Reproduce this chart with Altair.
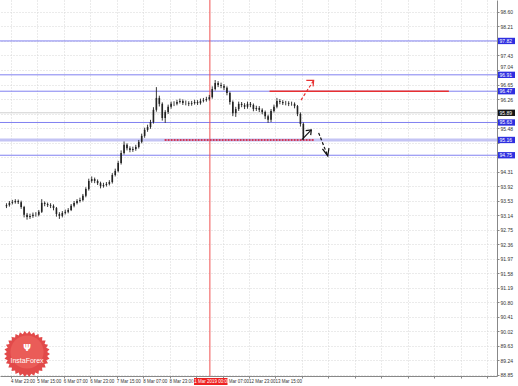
import math
import altair as alt
import pandas as pd

# ---------------- data ----------------
closes = [93.41, 93.47, 93.49, 93.52, 93.49, 93.36, 93.15, 93.09, 93.12, 93.15,
          93.15, 93.23, 93.47, 93.44, 93.41, 93.39, 93.33, 93.17, 93.12, 93.20,
          93.23, 93.28, 93.39, 93.47, 93.52, 93.55, 93.66, 93.84, 94.06, 94.11,
          94.06, 94.00, 93.92, 93.95, 93.98, 94.03, 94.22, 94.33, 94.54, 94.81,
          95.03, 94.94, 94.89, 94.92, 94.97, 95.11, 95.27, 95.43, 95.51, 95.64,
          95.97, 96.29, 96.13, 95.75, 95.91, 96.05, 96.13, 96.13, 96.18, 96.21,
          96.15, 96.15, 96.13, 96.15, 96.18, 96.15, 96.21, 96.23, 96.26, 96.31,
          96.53, 96.69, 96.64, 96.61, 96.56, 96.42, 96.18, 95.88, 95.99, 96.13,
          96.10, 96.05, 96.13, 96.10, 95.99, 96.02, 95.97, 95.91, 95.80, 95.70,
          95.94, 96.05, 96.21, 96.18, 96.15, 96.15, 96.13, 96.13, 96.07, 95.86,
          95.59, 95.21]
highs = [93.46, 93.52, 93.55, 93.57, 93.56, 93.53, 93.39, 93.20, 93.18, 93.21,
         93.22, 93.28, 93.57, 93.51, 93.48, 93.46, 93.43, 93.36, 93.22, 93.25,
         93.29, 93.33, 93.44, 93.52, 93.57, 93.61, 93.71, 93.89, 94.12, 94.18,
         94.15, 94.10, 94.04, 94.01, 94.03, 94.08, 94.27, 94.39, 94.60, 94.88,
         95.12, 95.07, 94.99, 94.98, 95.03, 95.16, 95.33, 95.49, 95.57, 95.70,
         96.04, 96.58, 96.35, 96.17, 95.96, 96.11, 96.19, 96.20, 96.24, 96.27,
         96.25, 96.22, 96.20, 96.21, 96.24, 96.23, 96.27, 96.29, 96.32, 96.37,
         96.60, 96.77, 96.74, 96.70, 96.66, 96.60, 96.46, 96.22, 96.05, 96.19,
         96.18, 96.15, 96.19, 96.18, 96.14, 96.08, 96.07, 96.01, 95.95, 95.84,
         95.99, 96.11, 96.29, 96.26, 96.23, 96.21, 96.20, 96.19, 96.17, 96.10,
         95.90, 95.63]
lows = [93.33, 93.37, 93.43, 93.45, 93.44, 93.31, 93.08, 93.02, 93.04, 93.07,
        93.10, 93.11, 93.20, 93.38, 93.36, 93.33, 93.27, 93.10, 93.04, 93.08,
        93.16, 93.19, 93.25, 93.35, 93.43, 93.48, 93.51, 93.62, 93.80, 94.01,
        94.00, 93.95, 93.86, 93.88, 93.91, 93.94, 93.99, 94.18, 94.29, 94.50,
        94.77, 94.88, 94.83, 94.84, 94.87, 94.93, 95.07, 95.22, 95.38, 95.46,
        95.60, 95.92, 96.06, 95.68, 95.62, 95.86, 96.00, 96.07, 96.09, 96.14,
        96.10, 96.09, 96.07, 96.08, 96.11, 96.10, 96.11, 96.17, 96.19, 96.22,
        96.27, 96.49, 96.58, 96.55, 96.50, 96.36, 96.11, 95.80, 95.78, 95.94,
        96.04, 95.99, 96.00, 96.04, 95.93, 95.94, 95.91, 95.85, 95.72, 95.62,
        95.64, 95.90, 96.01, 96.12, 96.10, 96.09, 96.07, 96.08, 96.01, 95.80,
        95.52, 95.16]
first_open = 93.38

# axis ticks / labels
price_ticks = [98.60, 98.21, 97.82, 97.43, 97.04, 96.65, 96.26, 95.87, 95.48, 95.09,
               94.70, 94.31, 93.92, 93.53, 93.14, 92.75, 92.36, 91.97, 91.58, 91.19,
               90.80, 90.41, 90.02, 89.63, 89.24, 88.85]
hidden_price_ticks = [97.82, 95.87, 95.09, 94.70]
raised_price_tick = 97.04
grid_bars = [1.5, 10.5, 19.5, 28.5, 37.5, 46.5, 55.5, 64.5, 73.5, 82.5,
             91.5, 100.5, 109.5, 118.5, 127.5, 136.5, 145.5, 154.5, 163.5]
# visible time labels (the one under the red tag is hidden, the next is partly covered)
time_labels = ["4 Mar 23:00", "5 Mar 15:00", "6 Mar 07:00", "6 Mar 23:00", "7 Mar 15:00",
               "8 Mar 07:00", "8 Mar 23:00", "Mar 07:00", "12 Mar 23:00", "13 Mar 15:00"]
time_label_bars = [1.5, 10.5, 19.5, 28.5, 37.5, 46.5, 55.5, 75.6, 82.5, 91.5]

# horizontal levels
blue_levels = [97.82, 96.91, 96.47, 95.63, 94.75]
thick_level = 95.16
bid_level = 95.89
tag_prices = [97.82, 96.91, 96.47, 95.89, 95.63, 95.16, 94.75]
tag_kinds = ["blue", "blue", "blue", "black", "blue", "blue", "blue"]

# annotations (bar index, price)
vline_bar = 69.2
vline_tag = "11 Mar 2019 00:00"
vline_tag_from, vline_tag_to = 63.8, 75.2
red_seg_top = (89.5, 150.5, 96.47)
red_seg_low = (53.8, 104.5, 95.16)

arrow_names = ["red_shaft", "red_head", "blk1_shaft", "blk1_head", "blk2_shaft", "blk2_head"]
arrow_x = [[100.2, 104.5], [102.0, 104.5, 104.3], [100.5, 103.7], [101.8, 103.7, 103.5],
           [106.2, 109.3], [107.5, 109.3, 109.7]]
arrow_y = [[96.23, 96.76], [96.76, 96.76, 96.60], [95.17, 95.43], [95.41, 95.43, 95.29],
           [95.35, 94.73], [94.92, 94.73, 94.94]]

# ---------------- build tables ----------------
opens = [first_open] + closes[:-1]
candles = pd.DataFrame({
    "bar": list(range(len(closes))),
    "open": opens, "close": closes, "high": highs, "low": lows,
})

X_DOMAIN = [-0.5, 165.17]
Y_DOMAIN = [88.82, 98.92]
xs = alt.Scale(domain=X_DOMAIN, nice=False, zero=False)
ys = alt.Scale(domain=Y_DOMAIN, nice=False, zero=False)

FONT = "Liberation Sans"
hidden_arr = "[" + ",".join(str(v) for v in hidden_price_ticks) + "]"
y_label_expr = f"indexof({hidden_arr}, datum.value) >= 0 ? '' : format(datum.value, '.2f')"

x_axis = alt.Axis(values=grid_bars, tickCount=200, labels=False, orient="bottom", title=None,
                  grid=True, gridColor="#d6d6d6", gridDash=[1, 2],
                  tickSize=2, tickColor="#888888", domainColor="#888888")
y_axis = alt.Axis(values=price_ticks, tickCount=200, labelExpr=y_label_expr, orient="right",
                  title=None, grid=True, gridColor="#d6d6d6", gridDash=[1, 2], labelFontSize=5,
                  labelFont=FONT, labelColor="#333333", labelFlush=False,
                  labelOverlap=False, labelPadding=1, tickSize=2, tickColor="#888888",
                  domainColor="#888888",
                  labelBaseline={"condition": {"test": f"datum.value == {raised_price_tick}",
                                               "value": "bottom"},
                                 "value": "middle"})

base = alt.Chart(candles).mark_rule(opacity=0).encode(
    x=alt.X("bar:Q", scale=xs, axis=x_axis),
    y=alt.Y("low:Q", scale=ys, axis=y_axis),
)
wicks = alt.Chart(candles).mark_rule(color="#222222", strokeWidth=0.9).encode(
    x=alt.X("bar:Q", scale=xs),
    y=alt.Y("low:Q", scale=ys),
    y2="high:Q",
)
bodies = alt.Chart(candles).mark_bar(color="#222222", width=1.6).encode(
    x=alt.X("bar:Q", scale=xs),
    y=alt.Y("open:Q", scale=ys),
    y2="close:Q",
)

blue_df = pd.DataFrame({"price": blue_levels})
blue_rules = alt.Chart(blue_df).mark_rule(color="#8080f0", strokeWidth=1).encode(
    y=alt.Y("price:Q", scale=ys))
thick_rule = alt.Chart(pd.DataFrame({"price": [thick_level]})).mark_rule(
    color="#c4c4f4", strokeWidth=3).encode(y=alt.Y("price:Q", scale=ys))
bid_rule = alt.Chart(pd.DataFrame({"price": [bid_level]})).mark_rule(
    color="#cfcfcf", strokeWidth=1).encode(y=alt.Y("price:Q", scale=ys))

vline = alt.Chart(pd.DataFrame({"bar": [vline_bar]})).mark_rule(
    color="#f05050", strokeWidth=1).encode(x=alt.X("bar:Q", scale=xs))

segs = pd.DataFrame({
    "x1": [red_seg_top[0], red_seg_low[0]],
    "x2": [red_seg_top[1], red_seg_low[1]],
    "price": [red_seg_top[2], red_seg_low[2]],
    "kind": ["top", "low"],
})
seg_top = alt.Chart(segs[segs.kind == "top"]).mark_rule(color="#e83030", strokeWidth=1.5).encode(
    x=alt.X("x1:Q", scale=xs), x2="x2:Q", y=alt.Y("price:Q", scale=ys))
seg_low = alt.Chart(segs[segs.kind == "low"]).mark_rule(
    color="#d03858", strokeWidth=2, strokeDash=[2, 1]).encode(
    x=alt.X("x1:Q", scale=xs), x2="x2:Q", y=alt.Y("price:Q", scale=ys))

rows = []
for name, xl, yl in zip(arrow_names, arrow_x, arrow_y):
    for i, (a, b) in enumerate(zip(xl, yl)):
        rows.append({"seg": name, "ord": i, "bar": a, "price": b})
arr = pd.DataFrame(rows)


def arrow_layer(names, color, dash):
    kw = {"color": color, "strokeWidth": 1.2}
    if dash:
        kw["strokeDash"] = [3, 2]
    return alt.Chart(arr[arr.seg.isin(names)]).mark_line(**kw).encode(
        x=alt.X("bar:Q", scale=xs), y=alt.Y("price:Q", scale=ys),
        detail="seg:N", order="ord:Q")


red_shaft = arrow_layer(["red_shaft"], "#e83030", True)
red_head = arrow_layer(["red_head"], "#e83030", False)
blk_solid = arrow_layer(["blk1_shaft", "blk1_head", "blk2_head"], "#111111", False)
blk_dash = arrow_layer(["blk2_shaft"], "#111111", True)

tags = pd.DataFrame({
    "price": tag_prices,
    "lo": [p - 0.085 for p in tag_prices],
    "hi": [p + 0.085 for p in tag_prices],
    "kind": tag_kinds,
    "txt": [f"{p:.2f}" for p in tag_prices],
})
tag_boxes = alt.Chart(tags).mark_rect().encode(
    x=alt.value(498), x2=alt.value(515),
    y=alt.Y("lo:Q", scale=ys), y2="hi:Q",
    color=alt.Color("kind:N", scale=alt.Scale(domain=["blue", "black"],
                                              range=["#2f2fe0", "#151515"]), legend=None),
)
tag_text = alt.Chart(tags).mark_text(align="left", baseline="middle", fontSize=5,
                                     font=FONT, color="white").encode(
    x=alt.value(499.5), y=alt.Y("price:Q", scale=ys), text="txt:N")

tl = pd.DataFrame({"bar": time_label_bars, "txt": time_labels})
time_text = alt.Chart(tl).mark_text(align="left", baseline="top", fontSize=4.5,
                                    font=FONT, color="#333333").encode(
    x=alt.X("bar:Q", scale=xs), y=alt.value(379), text="txt:N")

vt = pd.DataFrame({"x1": [vline_tag_from], "x2": [vline_tag_to],
                   "xm": [(vline_tag_from + vline_tag_to) / 2], "txt": [vline_tag]})
vtag_box = alt.Chart(vt).mark_rect(color="#ee2222").encode(
    x=alt.X("x1:Q", scale=xs), x2="x2:Q", y=alt.value(378), y2=alt.value(385))
vtag_text = alt.Chart(vt).mark_text(fontSize=4.5, font=FONT, color="white",
                                    baseline="middle").encode(
    x=alt.X("xm:Q", scale=xs), y=alt.value(381.5), text="txt:N")

# logo (decoration)
pts = []
n_pts = 30
for i in range(2 * n_pts):
    r = 1.0 if i % 2 == 0 else 0.88
    a = math.pi * i / n_pts
    pts.append(f"{r * math.cos(a):.3f},{r * math.sin(a):.3f}")
star_path = "M" + "L".join(pts) + "Z"
one = pd.DataFrame({"a": [0]})
logo = alt.Chart(one).mark_point(shape=star_path, filled=True, size=2116,
                                 color="#e24a4a", opacity=1, strokeWidth=0).encode(
    x=alt.value(27), y=alt.value(354))
logo_inner = alt.Chart(one).mark_point(shape="circle", filled=True, size=1100,
                                       color="#ea5c58", opacity=1, strokeWidth=0).encode(
    x=alt.value(27), y=alt.value(352))
logo_icon = alt.Chart(one).mark_text(text="Ψ", fontSize=9, font="DejaVu Sans", color="white",
                                     fontWeight="bold").encode(
    x=alt.value(27), y=alt.value(348))
logo_text = alt.Chart(one).mark_text(text="InstaForex", fontSize=7, font=FONT,
                                     color="white").encode(
    x=alt.value(27), y=alt.value(361))

chart = alt.layer(
    base, thick_rule, bid_rule, blue_rules, vline, seg_top, seg_low,
    wicks, bodies, red_shaft, red_head, blk_solid, blk_dash,
    tag_boxes, tag_text, time_text, vtag_box, vtag_text,
    logo, logo_inner, logo_icon, logo_text,
).properties(
    width=497, height=376,
    autosize=alt.AutoSizeParams(type="none"),
    padding={"left": 0, "top": 0, "right": 21, "bottom": 10},
    background="white",
).configure_view(stroke=None).configure_axis(labelOverlap=False)

chart.save("out.html", embed_options={"renderer": "svg", "actions": False})
